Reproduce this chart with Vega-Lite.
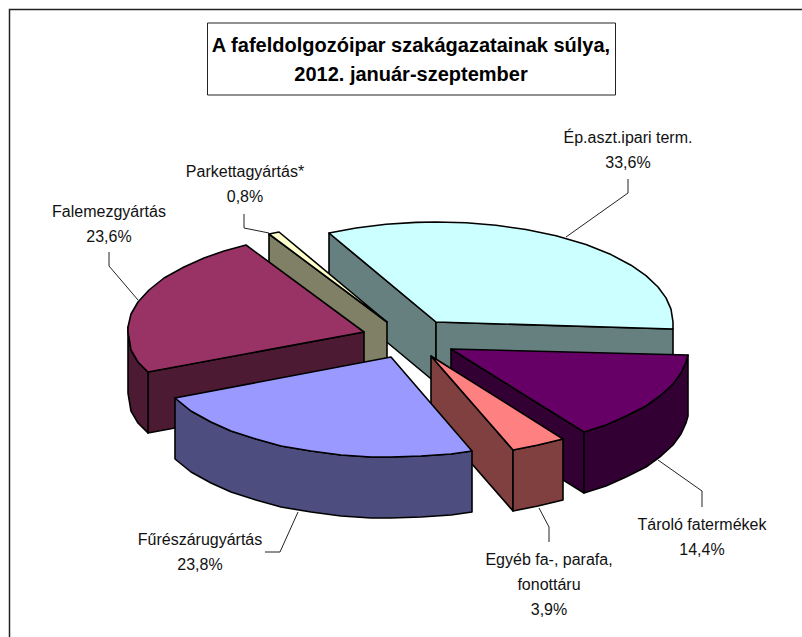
{"$schema":"https://vega.github.io/schema/vega-lite/v6.json","width":802,"height":637,"padding":0,"autosize":{"type":"none"},"background":"white","view":{"stroke":null},
"config":{"font":"Liberation Sans"},
"datasets":{
"faces":[
{"part":"Ép oldal","seq":1,"x":-107,"y":89},{"part":"Ép oldal","seq":2,"x":0,"y":0},{"part":"Ép oldal","seq":3,"x":0,"y":-61},{"part":"Ép oldal","seq":4,"x":-107,"y":28},
{"part":"Ép elöl","seq":1,"x":0,"y":0},{"part":"Ép elöl","seq":2,"x":237,"y":-7},{"part":"Ép elöl","seq":3,"x":237,"y":-68},{"part":"Ép elöl","seq":4,"x":0,"y":-61},
{"part":"Ép teteje","seq":0,"x":0,"y":0},{"part":"Ép teteje","seq":1,"x":-107,"y":89},{"part":"Ép teteje","seq":2,"x":-80,"y":94},{"part":"Ép teteje","seq":3,"x":-50,"y":97.7},{"part":"Ép teteje","seq":4,"x":-20,"y":99.6},{"part":"Ép teteje","seq":5,"x":0,"y":100},{"part":"Ép teteje","seq":6,"x":30,"y":99.2},{"part":"Ép teteje","seq":7,"x":60,"y":96.7},{"part":"Ép teteje","seq":8,"x":90,"y":92.5},{"part":"Ép teteje","seq":9,"x":120,"y":86.2},{"part":"Ép teteje","seq":10,"x":150,"y":77.4},{"part":"Ép teteje","seq":11,"x":175,"y":67.4},{"part":"Ép teteje","seq":12,"x":195,"y":56.8},{"part":"Ép teteje","seq":13,"x":210,"y":46.3},{"part":"Ép teteje","seq":14,"x":222,"y":35},{"part":"Ép teteje","seq":15,"x":230,"y":24.1},{"part":"Ép teteje","seq":16,"x":235,"y":12.9},{"part":"Ép teteje","seq":17,"x":237,"y":0},{"part":"Ép teteje","seq":18,"x":237,"y":-7},
{"part":"Parketta oldal","seq":1,"x":-167,"y":88},{"part":"Parketta oldal","seq":2,"x":-49,"y":0},{"part":"Parketta oldal","seq":3,"x":-49,"y":-61},{"part":"Parketta oldal","seq":4,"x":-167,"y":27},
{"part":"Parketta teteje","seq":1,"x":-167,"y":88},{"part":"Parketta teteje","seq":2,"x":-157,"y":90},{"part":"Parketta teteje","seq":3,"x":-49,"y":0},
{"part":"Falemez elöl","seq":1,"x":-288,"y":-50},{"part":"Falemez elöl","seq":2,"x":-72,"y":-10},{"part":"Falemez elöl","seq":3,"x":-72,"y":-71},{"part":"Falemez elöl","seq":4,"x":-288,"y":-111},
{"part":"Falemez ív","seq":1,"x":-308,"y":-5},{"part":"Falemez ív","seq":2,"x":-308,"y":-10},{"part":"Falemez ív","seq":3,"x":-305,"y":-28},{"part":"Falemez ív","seq":4,"x":-298,"y":-40},{"part":"Falemez ív","seq":5,"x":-288,"y":-50},{"part":"Falemez ív","seq":6,"x":-288,"y":-111},{"part":"Falemez ív","seq":7,"x":-298,"y":-101},{"part":"Falemez ív","seq":8,"x":-305,"y":-89},{"part":"Falemez ív","seq":9,"x":-308,"y":-71},{"part":"Falemez ív","seq":10,"x":-308,"y":-66},
{"part":"Falemez teteje","seq":0,"x":-72,"y":-10},{"part":"Falemez teteje","seq":1,"x":-190,"y":77},{"part":"Falemez teteje","seq":2,"x":-212,"y":71},{"part":"Falemez teteje","seq":3,"x":-232,"y":64},{"part":"Falemez teteje","seq":4,"x":-252,"y":55},{"part":"Falemez teteje","seq":5,"x":-272,"y":44},{"part":"Falemez teteje","seq":6,"x":-287,"y":32},{"part":"Falemez teteje","seq":7,"x":-298,"y":20},{"part":"Falemez teteje","seq":8,"x":-305,"y":8},{"part":"Falemez teteje","seq":9,"x":-308,"y":-5},{"part":"Falemez teteje","seq":10,"x":-308,"y":-10},{"part":"Falemez teteje","seq":11,"x":-305,"y":-28},{"part":"Falemez teteje","seq":12,"x":-298,"y":-40},{"part":"Falemez teteje","seq":13,"x":-288,"y":-50},
{"part":"Tároló oldal","seq":1,"x":15,"y":-27},{"part":"Tároló oldal","seq":2,"x":148,"y":-110},{"part":"Tároló oldal","seq":3,"x":148,"y":-171},{"part":"Tároló oldal","seq":4,"x":15,"y":-88},
{"part":"Tároló ív","seq":1,"x":252,"y":-33},{"part":"Tároló ív","seq":2,"x":250,"y":-40},{"part":"Tároló ív","seq":3,"x":245,"y":-51},{"part":"Tároló ív","seq":4,"x":237,"y":-62},{"part":"Tároló ív","seq":5,"x":225,"y":-73},{"part":"Tároló ív","seq":6,"x":210,"y":-84},{"part":"Tároló ív","seq":7,"x":190,"y":-94},{"part":"Tároló ív","seq":8,"x":170,"y":-103},{"part":"Tároló ív","seq":9,"x":148,"y":-110},{"part":"Tároló ív","seq":10,"x":148,"y":-171},{"part":"Tároló ív","seq":11,"x":170,"y":-164},{"part":"Tároló ív","seq":12,"x":190,"y":-155},{"part":"Tároló ív","seq":13,"x":210,"y":-145},{"part":"Tároló ív","seq":14,"x":225,"y":-134},{"part":"Tároló ív","seq":15,"x":237,"y":-123},{"part":"Tároló ív","seq":16,"x":245,"y":-112},{"part":"Tároló ív","seq":17,"x":250,"y":-101},{"part":"Tároló ív","seq":18,"x":252,"y":-94},
{"part":"Tároló teteje","seq":0,"x":15,"y":-27},{"part":"Tároló teteje","seq":1,"x":252,"y":-33},{"part":"Tároló teteje","seq":2,"x":250,"y":-40},{"part":"Tároló teteje","seq":3,"x":245,"y":-51},{"part":"Tároló teteje","seq":4,"x":237,"y":-62},{"part":"Tároló teteje","seq":5,"x":225,"y":-73},{"part":"Tároló teteje","seq":6,"x":210,"y":-84},{"part":"Tároló teteje","seq":7,"x":190,"y":-94},{"part":"Tároló teteje","seq":8,"x":170,"y":-103},{"part":"Tároló teteje","seq":9,"x":148,"y":-110},
{"part":"Egyéb oldal","seq":1,"x":-5,"y":-34},{"part":"Egyéb oldal","seq":2,"x":77,"y":-128},{"part":"Egyéb oldal","seq":3,"x":77,"y":-189},{"part":"Egyéb oldal","seq":4,"x":-5,"y":-95},
{"part":"Egyéb elöl","seq":1,"x":77,"y":-128},{"part":"Egyéb elöl","seq":2,"x":102,"y":-123},{"part":"Egyéb elöl","seq":3,"x":127,"y":-117},{"part":"Egyéb elöl","seq":4,"x":127,"y":-178},{"part":"Egyéb elöl","seq":5,"x":102,"y":-184},{"part":"Egyéb elöl","seq":6,"x":77,"y":-189},
{"part":"Egyéb teteje","seq":1,"x":-5,"y":-34},{"part":"Egyéb teteje","seq":2,"x":77,"y":-128},{"part":"Egyéb teteje","seq":3,"x":102,"y":-123},{"part":"Egyéb teteje","seq":4,"x":127,"y":-117},
{"part":"Fűrész ív","seq":1,"x":-261,"y":-76},{"part":"Fűrész ív","seq":2,"x":-245,"y":-89},{"part":"Fűrész ív","seq":3,"x":-225,"y":-100},{"part":"Fűrész ív","seq":4,"x":-205,"y":-109},{"part":"Fűrész ív","seq":5,"x":-180,"y":-117},{"part":"Fűrész ív","seq":6,"x":-155,"y":-124},{"part":"Fűrész ív","seq":7,"x":-125,"y":-129},{"part":"Fűrész ív","seq":8,"x":-95,"y":-133},{"part":"Fűrész ív","seq":9,"x":-65,"y":-135},{"part":"Fűrész ív","seq":10,"x":-45,"y":-135},{"part":"Fűrész ív","seq":11,"x":-15,"y":-134},{"part":"Fűrész ív","seq":12,"x":15,"y":-132},{"part":"Fűrész ív","seq":13,"x":36,"y":-129},{"part":"Fűrész ív","seq":14,"x":36,"y":-190},{"part":"Fűrész ív","seq":15,"x":15,"y":-193},{"part":"Fűrész ív","seq":16,"x":-15,"y":-195},{"part":"Fűrész ív","seq":17,"x":-45,"y":-196},{"part":"Fűrész ív","seq":18,"x":-65,"y":-196},{"part":"Fűrész ív","seq":19,"x":-95,"y":-194},{"part":"Fűrész ív","seq":20,"x":-125,"y":-190},{"part":"Fűrész ív","seq":21,"x":-155,"y":-185},{"part":"Fűrész ív","seq":22,"x":-180,"y":-178},{"part":"Fűrész ív","seq":23,"x":-205,"y":-170},{"part":"Fűrész ív","seq":24,"x":-225,"y":-161},{"part":"Fűrész ív","seq":25,"x":-245,"y":-150},{"part":"Fűrész ív","seq":26,"x":-261,"y":-137},
{"part":"Fűrész teteje","seq":0,"x":-45,"y":-35},{"part":"Fűrész teteje","seq":1,"x":-261,"y":-76},{"part":"Fűrész teteje","seq":2,"x":-245,"y":-89},{"part":"Fűrész teteje","seq":3,"x":-225,"y":-100},{"part":"Fűrész teteje","seq":4,"x":-205,"y":-109},{"part":"Fűrész teteje","seq":5,"x":-180,"y":-117},{"part":"Fűrész teteje","seq":6,"x":-155,"y":-124},{"part":"Fűrész teteje","seq":7,"x":-125,"y":-129},{"part":"Fűrész teteje","seq":8,"x":-95,"y":-133},{"part":"Fűrész teteje","seq":9,"x":-65,"y":-135},{"part":"Fűrész teteje","seq":10,"x":-45,"y":-135},{"part":"Fűrész teteje","seq":11,"x":-15,"y":-134},{"part":"Fűrész teteje","seq":12,"x":15,"y":-132},{"part":"Fűrész teteje","seq":13,"x":36,"y":-129}
],
"leaders":[
{"sector":"Ép","seq":1,"x":192,"y":143},{"sector":"Ép","seq":2,"x":192,"y":129},{"sector":"Ép","seq":3,"x":130,"y":85},
{"sector":"Parketta","seq":1,"x":-192,"y":108},{"sector":"Parketta","seq":2,"x":-192,"y":94},{"sector":"Parketta","seq":3,"x":-167,"y":89},
{"sector":"Falemez","seq":1,"x":-327,"y":70},{"sector":"Falemez","seq":2,"x":-327,"y":56},{"sector":"Falemez","seq":3,"x":-298,"y":22},
{"sector":"Fűrész","seq":1,"x":-171,"y":-230},{"sector":"Fűrész","seq":2,"x":-156,"y":-230},{"sector":"Fűrész","seq":3,"x":-138,"y":-190},
{"sector":"Tároló","seq":1,"x":266,"y":-185},{"sector":"Tároló","seq":2,"x":266,"y":-169},{"sector":"Tároló","seq":3,"x":222,"y":-138},
{"sector":"Egyéb","seq":1,"x":113,"y":-220},{"sector":"Egyéb","seq":2,"x":113,"y":-205},{"sector":"Egyéb","seq":3,"x":103,"y":-186}
],
"labels":[
{"label":"Ép.aszt.ipari term.\n33,6%","x":192,"y":179},
{"label":"Parkettagyártás*\n0,8%","x":-191,"y":145},
{"label":"Falemezgyártás\n23,6%","x":-327,"y":105},
{"label":"Fűrészárugyártás\n23,8%","x":-236,"y":-223},
{"label":"Tároló fatermékek\n14,4%","x":266,"y":-208},
{"label":"Egyéb fa-, parafa,\nfonottáru\n3,9%","x":113,"y":-243}
],
"frame":[{"seq":1,"x":-426.5,"y":-315},{"seq":2,"x":-426.5,"y":312.5},{"seq":3,"x":366,"y":312.5}],
"titlebox":[{"x":-228.5,"x2":179.5,"y":299,"y2":227}],
"titletext":[{"t":"A fafeldolgozóipar szakágazatainak súlya,\n2012. január-szeptember","x":-25,"y":270}]
},
"layer":[
{"data":{"name":"frame"},"mark":{"type":"line","stroke":"#222222","strokeWidth":1.5},"encoding":{"x":{"field":"x","type":"quantitative","scale":{"domain":[-436,366],"nice":false,"zero":false},"axis":null},"y":{"field":"y","type":"quantitative","scale":{"domain":[-315,322],"nice":false,"zero":false},"axis":null},"order":{"field":"seq"}}},
{"data":{"name":"titlebox"},"mark":{"type":"rect","fill":"white","stroke":"#222222","strokeWidth":1},"encoding":{"x":{"field":"x","type":"quantitative"},"x2":{"field":"x2"},"y":{"field":"y","type":"quantitative"},"y2":{"field":"y2"}}},
{"data":{"name":"titletext"},"mark":{"type":"text","align":"center","baseline":"alphabetic","fontSize":20,"fontWeight":"bold","lineBreak":"\n","lineHeight":29,"fill":"black"},"encoding":{"x":{"field":"x","type":"quantitative"},"y":{"field":"y","type":"quantitative"},"text":{"field":"t"}}},
{"data":{"name":"leaders"},"mark":{"type":"line","stroke":"#222222","strokeWidth":1},"encoding":{"x":{"field":"x","type":"quantitative"},"y":{"field":"y","type":"quantitative"},"detail":{"field":"sector"},"order":{"field":"seq"}}},
{"data":{"name":"faces"},"mark":{"type":"line","interpolate":"linear-closed","stroke":"black","strokeWidth":1.6,"strokeJoin":"round"},"encoding":{"x":{"field":"x","type":"quantitative"},"y":{"field":"y","type":"quantitative"},"order":{"field":"seq"},"fill":{"field":"part","type":"nominal","legend":null,"scale":{"domain":["Ép oldal","Ép elöl","Ép teteje","Parketta oldal","Parketta teteje","Falemez elöl","Falemez ív","Falemez teteje","Tároló oldal","Tároló ív","Tároló teteje","Egyéb oldal","Egyéb elöl","Egyéb teteje","Fűrész ív","Fűrész teteje"],"range":["#668080","#668080","#CCFFFF","#808066","#FFFFCC","#4D1A33","#4D1A33","#993366","#330033","#330033","#660066","#804040","#804040","#FF8080","#4D4D80","#9999FF"]}}}},
{"data":{"name":"labels"},"mark":{"type":"text","align":"center","baseline":"alphabetic","fontSize":16,"lineBreak":"\n","lineHeight":25,"fill":"#111111"},"encoding":{"x":{"field":"x","type":"quantitative"},"y":{"field":"y","type":"quantitative"},"text":{"field":"label"}}}
]}
